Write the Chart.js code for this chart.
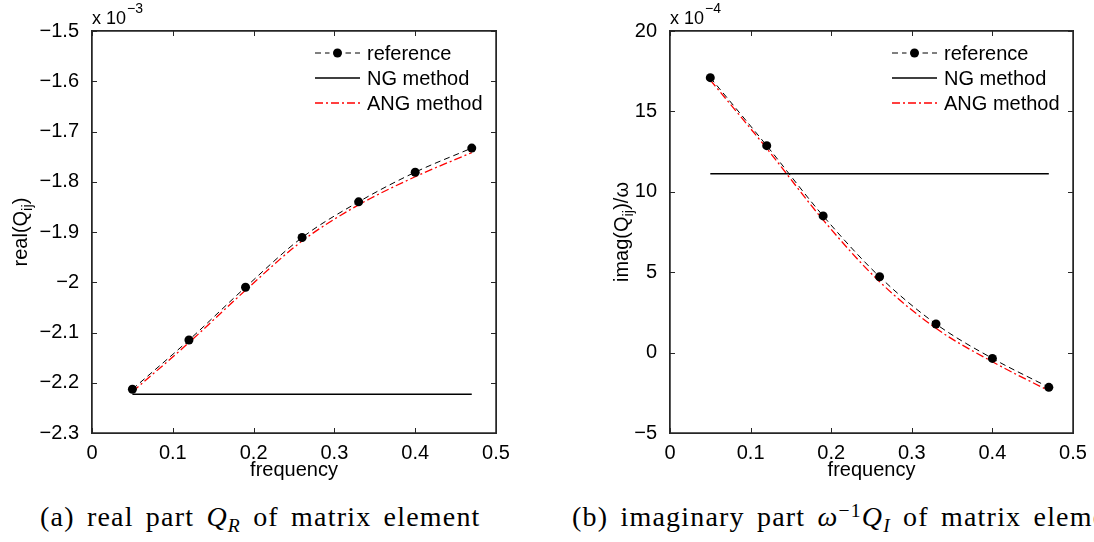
<!DOCTYPE html>
<html>
<head>
<meta charset="utf-8">
<script src="https://cdn.jsdelivr.net/npm/chart.js@4.4.0/dist/chart.umd.min.js"></script>
<style>
  html, body { margin: 0; padding: 0; background: #fff; overflow: hidden; }
  #page { position: relative; width: 1094px; height: 542px; overflow: hidden; }
  .panel { position: absolute; top: 0; width: 547px; height: 500px; }
  .frame { position: absolute; box-sizing: border-box; border: 1.5px solid #262626; pointer-events: none; }
  .tick { position: absolute; background: #262626; pointer-events: none; }
  .caption {
    position: absolute; top: 500px; white-space: nowrap; color: #000;
    font-family: 'Liberation Serif', serif; font-size: 28px; line-height: 34px;
    letter-spacing: 1.2px; word-spacing: 4px;
  }
  .caption sub, .caption sup { font-size: 70%; line-height: 0; position: relative; vertical-align: baseline; }
  .caption sub { top: 0.3em; }
  .caption sup { top: -0.45em; }
</style>
</head>
<body>
<div id="page">
  <div class="panel" id="panelA" style="left:0"><canvas id="chartA" width="547" height="500"></canvas></div>
  <div class="panel" id="panelB" style="left:547px"><canvas id="chartB" width="547" height="500"></canvas></div>
  <div class="caption" style="left:40px">(a) real part <i>Q<sub>R</sub></i> of matrix element</div>
  <div class="caption" style="left:572px">(b) imaginary part <i>ω</i><sup>−1</sup><i>Q<sub>I</sub></i> of matrix element</div>
</div>
<script>
// frequencies of the sample points
const freq = [0.05, 0.12, 0.19, 0.26, 0.33, 0.40, 0.47];

// (a) real part, in units of 1e-3
const realRef = [-2.213, -2.115, -2.010, -1.911, -1.840, -1.781, -1.733];
const realNG  = [-2.223, -2.223, -2.223, -2.223, -2.223, -2.223, -2.223];
const realANG = [-2.218, -2.120, -2.016, -1.918, -1.846, -1.790, -1.742];

// (b) imaginary part / omega, in units of 1e-4
const imagRef = [17.10, 12.87, 8.50, 4.72, 1.78, -0.36, -2.16];
const imagNG  = [11.13, 11.13, 11.13, 11.13, 11.13, 11.13, 11.13];
const imagANG = [16.95, 12.70, 8.25, 4.41, 1.51, -0.57, -2.37];

const legendLabels = ['reference', 'NG method', 'ANG method'];
const xTicks = [0, 0.1, 0.2, 0.3, 0.4, 0.5];

const FONT = "'Liberation Sans', Arial, sans-serif";
const AXIS = '#262626';

function pts(ys) {
  return freq.map((x, i) => ({ x: x, y: ys[i] }));
}

function fmt(v) {
  const s = String(Math.round(v * 10) / 10);
  return s.replace('-', '\u2212');
}

// box, inward ticks, axis titles, exponent and legend, MATLAB style
function framePlugin(cfg) {
  return {
    id: 'matlabFrame',
    afterDraw(chart) {
      const ctx = chart.ctx;
      const a = chart.chartArea;
      const xs = chart.scales.x, ys = chart.scales.y;
      ctx.save();
      ctx.strokeStyle = AXIS;
      ctx.lineWidth = 1.5;
      ctx.strokeRect(a.left, a.top, a.right - a.left, a.bottom - a.top);

      ctx.lineWidth = 1;
      ctx.beginPath();
      xTicks.forEach(v => {
        const px = Math.round(xs.getPixelForValue(v)) + 0.5;
        ctx.moveTo(px, a.bottom); ctx.lineTo(px, a.bottom - 5);
        ctx.moveTo(px, a.top); ctx.lineTo(px, a.top + 5);
      });
      cfg.yTicks.forEach(v => {
        const py = Math.round(ys.getPixelForValue(v)) + 0.5;
        ctx.moveTo(a.left, py); ctx.lineTo(a.left + 5, py);
        ctx.moveTo(a.right, py); ctx.lineTo(a.right - 5, py);
      });
      ctx.stroke();

      ctx.fillStyle = '#000';
      // x title
      ctx.font = '20px ' + FONT;
      ctx.textAlign = 'center';
      ctx.textBaseline = 'alphabetic';
      ctx.fillText('frequency', (a.left + a.right) / 2, 476);

      // y title with subscript
      ctx.save();
      ctx.translate(cfg.ylabelX, (a.top + a.bottom) / 2);
      ctx.rotate(-Math.PI / 2);
      ctx.textAlign = 'left';
      ctx.font = '20px ' + FONT;
      const w1 = ctx.measureText(cfg.ylabel[0]).width;
      const w3 = ctx.measureText(cfg.ylabel[2]).width;
      ctx.font = '15px ' + FONT;
      const w2 = ctx.measureText(cfg.ylabel[1]).width;
      const x0 = -(w1 + w2 + w3) / 2;
      ctx.font = '20px ' + FONT;
      ctx.fillText(cfg.ylabel[0], x0, 7);
      ctx.font = '15px ' + FONT;
      ctx.fillText(cfg.ylabel[1], x0 + w1, 12);
      ctx.font = '20px ' + FONT;
      ctx.fillText(cfg.ylabel[2], x0 + w1 + w2, 7);
      ctx.restore();

      // exponent
      ctx.textAlign = 'left';
      ctx.font = '18px ' + FONT;
      ctx.fillText('x 10', a.left, 24);
      const we = ctx.measureText('x 10').width;
      ctx.font = '14px ' + FONT;
      ctx.fillText(cfg.exponent, a.left + we + 1, 13);

      // legend
      const x1 = a.right - 181, x2 = a.right - 136, tx = a.right - 129;
      chart.data.datasets.forEach((ds, i) => {
        const y = a.top + 22 + i * 25;
        ctx.strokeStyle = ds.borderColor;
        ctx.lineWidth = ds.borderWidth;
        ctx.setLineDash(ds.borderDash || []);
        ctx.beginPath();
        ctx.moveTo(x1, y); ctx.lineTo(x2, y);
        ctx.stroke();
        ctx.setLineDash([]);
        if (ds.pointRadius > 0) {
          ctx.fillStyle = '#fff';
          ctx.fillRect((x1 + x2) / 2 - 8, y - 5, 16, 10);
          ctx.fillStyle = ds.pointBackgroundColor;
          ctx.beginPath();
          ctx.arc((x1 + x2) / 2, y, ds.pointRadius, 0, Math.PI * 2);
          ctx.fill();
        }
        ctx.fillStyle = '#000';
        ctx.font = '20px ' + FONT;
        ctx.textBaseline = 'middle';
        ctx.fillText(legendLabels[i], tx, y + 1);
        ctx.textBaseline = 'alphabetic';
      });
      ctx.restore();
    }
  };
}

// frame and ticks also as page elements, placed from the chart's own scales
function addFrame(chart, panelId, cfg) {
  const panel = document.getElementById(panelId);
  const a = chart.chartArea;
  const xs = chart.scales.x, ys = chart.scales.y;
  const box = document.createElement('div');
  box.className = 'frame';
  box.style.left = (a.left - 0.75) + 'px';
  box.style.top = (a.top - 0.75) + 'px';
  box.style.width = (a.right - a.left + 1.5) + 'px';
  box.style.height = (a.bottom - a.top + 1.5) + 'px';
  panel.appendChild(box);
  function tick(x, y, w, h) {
    const t = document.createElement('div');
    t.className = 'tick';
    t.style.left = x + 'px'; t.style.top = y + 'px';
    t.style.width = w + 'px'; t.style.height = h + 'px';
    panel.appendChild(t);
  }
  xTicks.forEach(v => {
    const px = Math.round(xs.getPixelForValue(v));
    tick(px, a.bottom - 5, 1, 5);
    tick(px, a.top, 1, 5);
  });
  cfg.yTicks.forEach(v => {
    const py = Math.round(ys.getPixelForValue(v));
    tick(a.left, py, 5, 1);
    tick(a.right - 5, py, 5, 1);
  });
}

function makeChart(id, panelId, cfg) {
  const ctx = document.getElementById(id).getContext('2d');
  const chart = new Chart(ctx, {
    type: 'line',
    data: {
      datasets: [
        {
          label: legendLabels[0],
          data: pts(cfg.ref),
          borderColor: '#000',
          borderWidth: 1,
          borderDash: [6, 4],
          pointRadius: 4.5,
          pointBackgroundColor: '#000',
          pointBorderWidth: 0,
          cubicInterpolationMode: 'monotone'
        },
        {
          label: legendLabels[1],
          data: pts(cfg.ng),
          borderColor: '#000',
          borderWidth: 1.5,
          pointRadius: 0
        },
        {
          label: legendLabels[2],
          data: pts(cfg.ang),
          borderColor: '#ff0000',
          borderWidth: 1.3,
          borderDash: [8, 3, 2, 3],
          pointRadius: 0,
          cubicInterpolationMode: 'monotone'
        }
      ]
    },
    options: {
      responsive: false,
      animation: false,
      layout: { padding: { top: 31, right: cfg.padRight, left: 0, bottom: 0 } },
      plugins: { legend: { display: false }, tooltip: { enabled: false } },
      scales: {
        x: {
          type: 'linear',
          min: 0, max: 0.5,
          afterFit: s => { s.height = 500 - 433; },
          afterBuildTicks: s => { s.ticks = xTicks.map(v => ({ value: v })); },
          grid: { display: false },
          border: { display: false },
          ticks: {
            autoSkip: false, maxRotation: 0, padding: 0, color: '#000',
            font: { family: FONT, size: 20 },
            callback: v => fmt(v)
          }
        },
        y: {
          min: cfg.yMin, max: cfg.yMax,
          afterFit: s => { s.width = cfg.padLeft; },
          afterBuildTicks: s => { s.ticks = cfg.yTicks.map(v => ({ value: v })); },
          grid: { display: false },
          border: { display: false },
          ticks: {
            autoSkip: false, padding: 5, color: '#000',
            font: { family: FONT, size: 20 },
            callback: v => fmt(v)
          }
        }
      }
    },
    plugins: [framePlugin(cfg)]
  });
  addFrame(chart, panelId, cfg);
  return chart;
}

makeChart('chartA', 'panelA', {
  ref: realRef, ng: realNG, ang: realANG,
  yMin: -2.3, yMax: -1.5,
  yTicks: [-2.3, -2.2, -2.1, -2.0, -1.9, -1.8, -1.7, -1.6, -1.5],
  padLeft: 92, padRight: 51,
  ylabelX: 20,
  ylabel: ['real(Q', 'ij', ')'],
  exponent: '\u22123'
});

makeChart('chartB', 'panelB', {
  ref: imagRef, ng: imagNG, ang: imagANG,
  yMin: -5, yMax: 20,
  yTicks: [-5, 0, 5, 10, 15, 20],
  padLeft: 123, padRight: 21,
  ylabelX: 74,
  ylabel: ['imag(Q', 'ij', ')/\u03c9'],
  exponent: '\u22124'
});
</script>
</body>
</html>
